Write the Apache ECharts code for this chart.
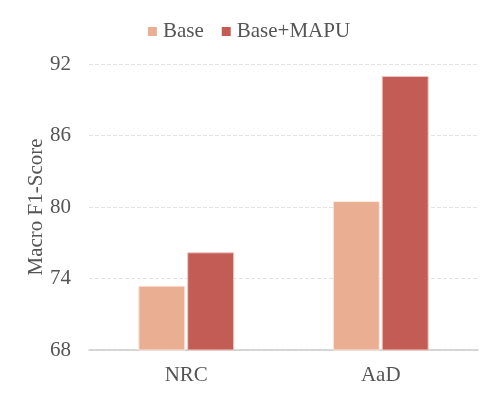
<!DOCTYPE html>
<html>
<head>
<meta charset="utf-8">
<script src="https://cdn.jsdelivr.net/npm/echarts@6/dist/echarts.min.js"></script>
<style>
  html, body { margin: 0; padding: 0; background: #fff; }
  #chart { width: 498px; height: 398px; }
</style>
</head>
<body>
<div id="chart"></div>
<script>
var categories = ['NRC', 'AaD'];
var seriesNames = ['Base', 'Base+MAPU'];
var baseValues = [73.4, 80.5];
var mapuValues = [76.2, 91.0];
var yTicks = [68, 74, 80, 86, 92];

var FONT = '"Liberation Serif", "Times New Roman", serif';
var TEXT = '#555555';

var chart = echarts.init(document.getElementById('chart'));
chart.setOption({
    animation: false,
    textStyle: { fontFamily: FONT },
    legend: {
        data: seriesNames,
        top: 16,
        left: 'center',
        itemWidth: 9,
        itemHeight: 9,
        itemGap: 18,
        icon: 'rect',
        itemStyle: { borderWidth: 0 },
        textStyle: { fontFamily: FONT, fontSize: 21, color: TEXT, padding: [0, 0, 0, 1] }
    },
    grid: { left: 89, right: 20, top: 64, bottom: 48 },
    xAxis: {
        type: 'category',
        data: categories,
        axisLine: { lineStyle: { color: '#cccccc', width: 1.5 } },
        axisTick: { show: false },
        axisLabel: { fontFamily: FONT, fontSize: 21, color: TEXT, margin: 15 }
    },
    yAxis: {
        type: 'value',
        min: yTicks[0],
        max: yTicks[yTicks.length - 1],
        interval: 6,
        name: 'Macro F1-Score',
        nameLocation: 'middle',
        nameGap: 42,
        nameMoveOverlap: false,
        nameTextStyle: { fontFamily: FONT, fontSize: 21, color: TEXT },
        axisLine: { show: false },
        axisTick: { show: false },
        axisLabel: { fontFamily: FONT, fontSize: 21, color: TEXT, margin: 18 },
        splitLine: { lineStyle: { color: '#e3e3e3', type: 'dashed' } }
    },
    series: [
        {
            name: seriesNames[0],
            type: 'bar',
            data: baseValues,
            barWidth: 47,
            barGap: '4%',
            itemStyle: { color: '#EAAF93', borderColor: '#fbe9e1', borderWidth: 1 }
        },
        {
            name: seriesNames[1],
            type: 'bar',
            data: mapuValues,
            barWidth: 47,
            barGap: '4%',
            itemStyle: { color: '#C45C56', borderColor: '#eec9c6', borderWidth: 1 }
        }
    ]
});
</script>
</body>
</html>
